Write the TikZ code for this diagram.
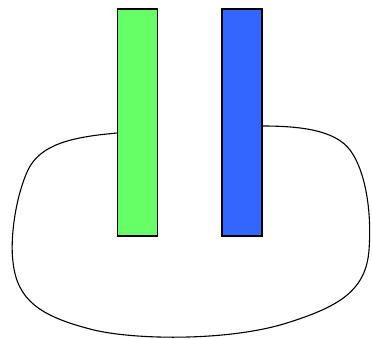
\documentclass[tikz,border=0pt]{standalone}
\usetikzlibrary{calc}
\definecolor{ggreen}{HTML}{66FF66}
\definecolor{gblue}{HTML}{3366FF}
\tikzset{bar/.style={draw=black, line width=1.2pt, minimum width=40pt, minimum height=227pt, inner sep=0pt, outer sep=0pt},
loopline/.style={draw=black, line width=1.1pt}}
\begin{document}
\begin{tikzpicture}[x=1pt,y=-1pt]
\useasboundingbox (0,0) rectangle (372,339);
\node[bar, fill=ggreen] (g) at (137.5,122.5) {};
\node[bar, fill=gblue] (b) at (242,122.5) {};
\coordinate (gs) at ($(g.west)+(0,10.5)$);
\coordinate (bs) at ($(b.east)+(0,3.5)$);
\draw[loopline] (gs) .. controls (70,137) and (40,145) .. (28,170)
  .. controls (15,198) and (10,240) .. (13,262)
  .. controls (17,300) and (40,316) .. (90,329)
  .. controls (130,340) and (230,342) .. (290,322)
  .. controls (340,306) and (366,290) .. (369,250)
  .. controls (372,210) and (365,170) .. (350,150)
  .. controls (335,130) and (300,126) .. (bs);
\end{tikzpicture}
\end{document}
